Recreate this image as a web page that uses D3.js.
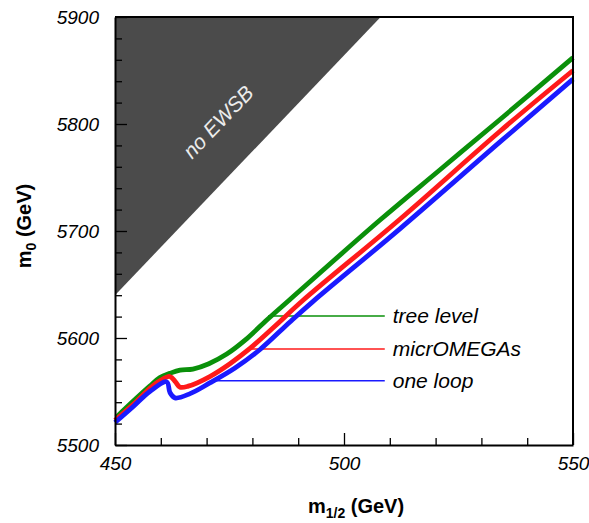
<!DOCTYPE html>
<html>
<head>
<meta charset="utf-8">
<script src="https://cdn.jsdelivr.net/npm/d3@7"></script>
<style>
  body { margin: 0; background: #fff; }
  svg text { font-family: "Liberation Sans", Arial, sans-serif; }
</style>
</head>
<body>
<svg id="chart" width="589" height="523"></svg>
<script>
// ----------------------
// data
// ----------------------
const treeM12 = [450.3, 454, 457.6, 459.8, 462, 464.2, 467, 470.5, 474.4, 478.4, 483.2, 488.2, 507.8, 520.9, 534, 550];
const treeM0  = [5526, 5541, 5555, 5563, 5567, 5570, 5571, 5576, 5585, 5598, 5617, 5636, 5710, 5757, 5804, 5862];

const microM12 = [450, 454, 457.6, 459.8, 462, 463.2, 464.2, 466, 470.7, 475.1, 479.4, 484.9, 491, 512.2, 534, 550];
const microM0  = [5523, 5538, 5553, 5560, 5564, 5559, 5554, 5555, 5564, 5576, 5590, 5611, 5635, 5711, 5793, 5850];

const loopM12 = [450, 454, 457.6, 461.3, 462, 463.1, 466.4, 470.7, 476.2, 481.6, 488.2, 493.2, 512.2, 534, 550];
const loopM0  = [5521, 5536, 5550, 5559, 5549, 5544, 5548, 5558, 5572, 5589, 5615, 5634, 5702, 5783, 5842];

// excluded region boundary
const noEwsbM12 = [450, 508];
const noEwsbM0  = [5640, 5900];

const seriesNames = ["tree level", "micrOMEGAs", "one loop"];
const seriesColors = ["#0a900a", "#ff1a1a", "#1a1aff"];
const legendM0 = [5620.5, 5589.7, 5560];
const legendStart = [483.4, 479.4, 470.7];
const legendEnd = 508.9;

const xMajor = [450, 500, 550];
const yMajor = [5500, 5600, 5700, 5800, 5900];

// ----------------------
// layout
// ----------------------
const svg = d3.select("#chart");
const margin = { top: 17, left: 115, right: 16, bottom: 78 };
const innerW = 589 - margin.left - margin.right;
const innerH = 523 - margin.top - margin.bottom;

const g = svg.append("g")
    .attr("transform", `translate(${margin.left},${margin.top})`);

const x = d3.scaleLinear().domain([450, 550]).range([0, innerW]);
const y = d3.scaleLinear().domain([5500, 5900]).range([innerH, 0]);

// dark region
g.append("path")
    .attr("d", d3.line()([
        [x(noEwsbM12[0]), y(noEwsbM0[1])],
        [x(noEwsbM12[0]), y(noEwsbM0[0])],
        [x(noEwsbM12[1]), y(noEwsbM0[1])]
    ]))
    .attr("fill", "#4b4b4b");

const ang = Math.atan2(y(noEwsbM0[1]) - y(noEwsbM0[0]), x(noEwsbM12[1]) - x(noEwsbM12[0])) * 180 / Math.PI;
g.append("text")
    .attr("transform", `translate(${x(472.5)},${y(5802)}) rotate(${ang})`)
    .attr("text-anchor", "middle")
    .attr("dy", "0.35em")
    .attr("font-size", 21)
    .attr("font-style", "italic")
    .attr("fill", "#ececec")
    .text("no EWSB");

// legend lines (behind the bands)
seriesNames.forEach((name, i) => {
    g.append("line")
        .attr("x1", x(legendStart[i]))
        .attr("x2", x(legendEnd))
        .attr("y1", y(legendM0[i]))
        .attr("y2", y(legendM0[i]))
        .attr("stroke", seriesColors[i])
        .attr("stroke-width", 1.5);
    g.append("text")
        .attr("x", x(legendEnd) + 8)
        .attr("y", y(legendM0[i]))
        .attr("dy", "0.35em")
        .attr("font-size", 21)
        .attr("font-style", "italic")
        .attr("fill", "#000")
        .text(name);
});

// bands
const bands = [
    [treeM12, treeM0],
    [microM12, microM0],
    [loopM12, loopM0]
];

const bandLine = d3.line()
    .x(d => x(d[0]))
    .y(d => y(d[1]))
    .curve(d3.curveCatmullRom.alpha(0.5));

bands.forEach((b, i) => {
    const pts = b[0].map((v, j) => [v, b[1][j]]);
    g.append("path")
        .attr("d", bandLine(pts))
        .attr("fill", "none")
        .attr("stroke", seriesColors[i])
        .attr("stroke-width", 4.8)
        .attr("stroke-linejoin", "round");
});

// ----------------------
// axes
// ----------------------
const xMinor = d3.range(450, 551, 10).filter(v => !xMajor.includes(v));
const yMinor = d3.range(5500, 5901, 20).filter(v => !yMajor.includes(v));

const xAxisG = g.append("g").attr("transform", `translate(0,${innerH})`);
xAxisG.call(d3.axisBottom(x).tickValues(xMajor).tickSize(-12).tickSizeOuter(0).tickPadding(12).tickFormat(d3.format("d")));
xAxisG.append("g").call(d3.axisBottom(x).tickValues(xMinor).tickSize(-7).tickSizeOuter(0).tickFormat(""))
    .select(".domain").remove();

const yAxisG = g.append("g");
yAxisG.call(d3.axisLeft(y).tickValues(yMajor).tickSize(-12).tickSizeOuter(0).tickPadding(16).tickFormat(d3.format("d")));
yAxisG.append("g").call(d3.axisLeft(y).tickValues(yMinor).tickSize(-7).tickSizeOuter(0).tickFormat(""))
    .select(".domain").remove();

svg.selectAll(".tick line").attr("stroke", "#000").attr("stroke-width", 1.3);
svg.selectAll(".domain").attr("stroke", "#000").attr("stroke-width", 2);
svg.selectAll(".tick text")
    .attr("font-size", 19)
    .attr("font-style", "italic")
    .attr("fill", "#000");

// frame top/right
g.append("path")
    .attr("d", `M0,0H${innerW}V${innerH}`)
    .attr("fill", "none")
    .attr("stroke", "#000")
    .attr("stroke-width", 2);

// axis titles
const xTitle = svg.append("text")
    .attr("x", 356)
    .attr("y", 513)
    .attr("text-anchor", "middle")
    .attr("font-size", 20)
    .attr("font-weight", "bold");
xTitle.append("tspan").text("m");
xTitle.append("tspan").attr("font-size", 14).attr("dy", 5).text("1/2");
xTitle.append("tspan").attr("dy", -5).text(" (GeV)");

const yTitle = svg.append("text")
    .attr("transform", `translate(31,226) rotate(-90)`)
    .attr("text-anchor", "middle")
    .attr("font-size", 20)
    .attr("font-weight", "bold");
yTitle.append("tspan").text("m");
yTitle.append("tspan").attr("font-size", 14).attr("dy", 5).text("0");
yTitle.append("tspan").attr("dy", -5).text(" (GeV)");
</script>
</body>
</html>
